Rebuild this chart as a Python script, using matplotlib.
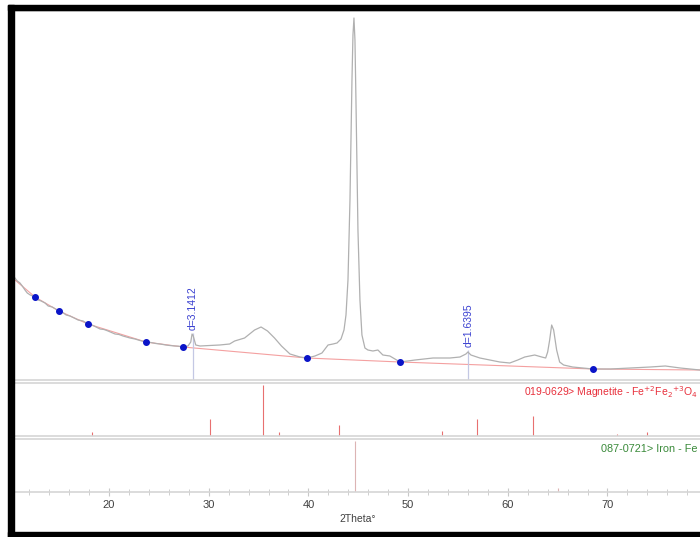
import numpy as np
import matplotlib
matplotlib.use("Agg")
import matplotlib.pyplot as plt
from matplotlib.patches import Rectangle

plt.rcParams["font.family"] = ["Liberation Sans", "DejaVu Sans"]

# scan (2theta, counts)
two_theta = [10.57, 10.8, 11.07, 11.3, 11.57, 11.8, 12.1, 12.58, 12.9, 13.2, 13.58, 13.9, 14.3,
             14.98, 15.3, 15.7, 16.09, 16.5, 16.9, 17.4, 17.89, 18.3, 18.7, 19.1, 19.5, 19.9,
             20.6, 21.0, 21.4, 22.11, 22.6, 23.1, 23.71, 24.2, 24.7, 25.12, 25.7, 26.1, 26.62,
             27.0, 27.42, 27.92, 28.2, 28.33, 28.45, 28.7, 29.13, 30.1, 31.1, 32.1, 32.6, 33.6,
             34.6, 35.25, 35.9, 36.6, 37.3, 38.15, 39.16, 39.86, 40.66, 41.36, 41.97, 42.47,
             42.87, 43.27, 43.57, 43.77, 43.97, 44.17, 44.37, 44.47, 44.57, 44.67, 44.77,
             44.97, 45.17, 45.37, 45.67, 45.97, 46.47, 46.97, 47.47, 48.17, 49.19, 50.7, 52.5,
             54.2, 55.2, 55.8, 56.0, 56.3, 57.2, 58.2, 59.2, 60.2, 61.0, 61.7, 62.7, 63.4,
             63.8, 64.0, 64.2, 64.4, 64.6, 64.9, 65.2, 65.6, 66.5, 68.55, 70.3, 72.3, 74.3,
             75.8, 77.3, 79.28]
counts = [1020, 990, 970, 940, 900, 870, 850, 830, 800, 790, 770, 740, 730,
          690, 680, 650, 640, 620, 600, 590, 560, 550, 530, 510, 505, 490,
          460, 455, 440, 420, 410, 395, 380, 375, 365, 360, 350, 345, 340,
          338, 330, 340, 380, 460, 440, 350, 340, 345, 350, 360, 390, 420,
          500, 530, 490, 420, 340, 260, 230, 220, 240, 270, 350, 360,
          370, 410, 500, 650, 1000, 1800, 3000, 3450, 3620, 3400, 2800,
          1500, 800, 450, 320, 300, 290, 300, 250, 240, 180, 200, 220,
          220, 230, 260, 280, 250, 220, 200, 180, 170, 200, 230, 250, 230,
          220, 280, 400, 550, 500, 300, 180, 150, 130, 110, 110, 120, 130,
          140, 120, 100]

# background points (blue dots) and fitted background line
bg_theta = [12.58, 14.98, 17.89, 23.71, 27.42, 39.86, 49.19, 68.55]
bg_counts = [830, 690, 560, 380, 330, 220, 180, 110]
bg_line_theta = [10.57] + bg_theta + [79.28]
bg_line_counts = [1000] + bg_counts + [100]

# peak labels
d_theta = [28.39, 56.04]
d_text = ["d=3.1412", "d=1.6395"]
d_top = [470, 300]

# reference cards
mag_theta = [18.27, 30.10, 35.42, 37.05, 43.05, 53.39, 56.94, 62.52, 71.0, 74.0]
mag_int = [8, 33, 100, 8, 21, 10, 33, 39, 3, 8]
fe_theta = [44.67, 65.02]
fe_int = [100, 8]

xmin, xmax = 10.57, 79.28
W, H = 700, 537

fig = plt.figure(figsize=(7.0, 5.37), dpi=100)
fig.patch.set_facecolor("white")

def box(top, bottom):
    return [15 / W, 1 - bottom / H, 1 - 15 / W, (bottom - top) / H]

ax1 = fig.add_axes(box(11, 380))
ax2 = fig.add_axes(box(383, 436))
ax3 = fig.add_axes(box(439, 492))

sep = "#d6d6d6"
for ax in (ax1, ax2, ax3):
    ax.set_xlim(xmin, xmax)
    for s in ("left", "right"):
        ax.spines[s].set_visible(False)
    for s in ("top", "bottom"):
        ax.spines[s].set_color(sep)
        ax.spines[s].set_linewidth(1.2)
    ax.set_yticks([])

ax1.set_ylim(0, 3690)
ax1.plot(bg_line_theta, bg_line_counts, color="#f4a0a0", lw=0.8, zorder=1)
ax1.plot(two_theta, counts, color="#b0b0b0", lw=0.9, zorder=2)
ax1.scatter(bg_theta, bg_counts, s=16, color="#0a14c8", zorder=3)
for t, lab, top in zip(d_theta, d_text, d_top):
    ax1.vlines(t, 0, top, color="#c4c8e4", lw=0.9, zorder=1)
    ax1.text(t, top + 30, lab, rotation=90, ha="center", va="bottom",
             color="#3a40d0", fontsize=7.5)
ax1.set_xticks([])

ax2.set_ylim(0, 104)
ax2.vlines(mag_theta, 0, mag_int, color="#e87070", lw=0.8)
ax2.set_xticks([])

ax3.set_ylim(0, 104)
ax3.vlines(fe_theta, 0, fe_int, color="#dcb4b4", lw=0.8)
ax3.set_xticks(np.arange(20, 80, 10))
ax3.set_xticks(np.arange(12, 80, 2), minor=True)
ax3.tick_params(axis="x", which="both", direction="inout", color="#c8c8c8",
                labelcolor="#404040", labelsize=8, pad=3)
ax3.tick_params(axis="x", which="major", length=6)
ax3.tick_params(axis="x", which="minor", length=5)
ax3.set_xlabel("2Theta°", fontsize=7.5, color="#404040", labelpad=3)

# card labels sit at the right edge, as in the screenshot
fig.text(524 / W, 1 - 392 / H, "019-0629> Magnetite - Fe$^{+2}$Fe$_2$$^{+3}$O$_4$",
         color="#e8303c", fontsize=7.5, va="center", ha="left")
fig.text(601 / W, 1 - 449 / H, "087-0721> Iron - Fe",
         color="#3a8a3a", fontsize=7.8, va="center", ha="left")

# window frame of the screenshot
frame = dict(transform=fig.transFigure, color="black", zorder=10)
fig.patches.append(Rectangle((8 / W, 1 - 10 / H), 1, 5 / H, **frame))
fig.patches.append(Rectangle((8 / W, 0), 6 / W, 1 - 5 / H, **frame))
fig.patches.append(Rectangle((8 / W, 0), 1, 5 / H, **frame))

fig.savefig("out.png", dpi=100, facecolor="white")
